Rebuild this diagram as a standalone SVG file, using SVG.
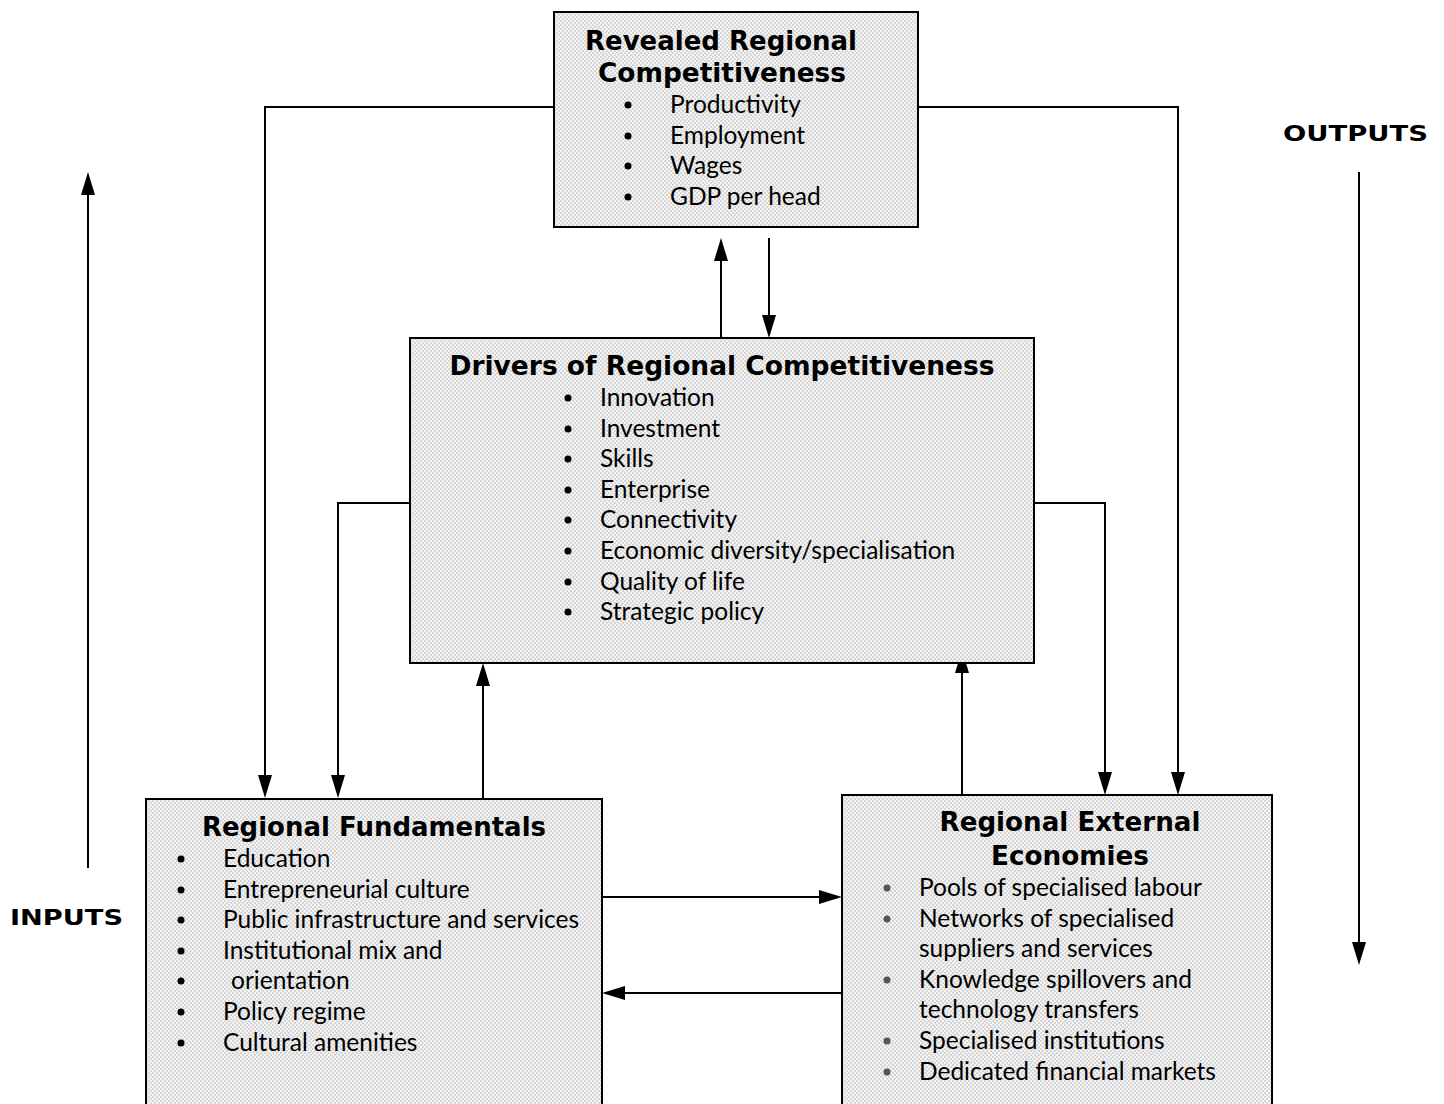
<svg xmlns="http://www.w3.org/2000/svg" width="1444" height="1104" viewBox="0 0 1444 1104">
<defs>
<pattern id="dots" width="4" height="4" patternUnits="userSpaceOnUse">
<rect width="4" height="4" fill="#f4f4f4"/>
<rect x="0" y="0" width="2" height="2" fill="#d6d6d6"/>
<rect x="2" y="2" width="2" height="2" fill="#d6d6d6"/>
</pattern>
</defs>
<style>
.box{fill:url(#dots);stroke:#000;stroke-width:2}
.t{font-family:"DejaVu Sans","Liberation Sans",sans-serif;font-weight:bold;font-size:26px;fill:#000;text-anchor:middle}
.b{font-family:Lato,"Liberation Sans",sans-serif;font-size:24.5px;fill:#000}
.lab{font-family:"DejaVu Sans","Liberation Sans",sans-serif;font-weight:bold;font-size:21px;fill:#000}
.c{fill:none;stroke:#000;stroke-width:2}
.g{fill:#555}
</style>
<g id="connectors">
<path class="c" d="M554,107 H265 V775"/>
<path d="M258,775 L272,775 L265,798 z"/>
<path class="c" d="M918,107 H1178 V772"/>
<path d="M1171,772 L1185,772 L1178,795 z"/>
<path class="c" d="M721,338 V261"/>
<path d="M714,261 L728,261 L721,238 z"/>
<path class="c" d="M769,238 V315"/>
<path d="M762,315 L776,315 L769,338 z"/>
<path class="c" d="M410,503 H338 V775"/>
<path d="M331,775 L345,775 L338,798 z"/>
<path class="c" d="M1034,503 H1105 V772"/>
<path d="M1098,772 L1112,772 L1105,795 z"/>
<path class="c" d="M483,798 V686"/>
<path d="M476,686 L490,686 L483,663 z"/>
<path class="c" d="M962,795 V673"/>
<path d="M955,673 L969,673 L962,650 z"/>
<path class="c" d="M602,897 H819"/>
<path d="M819,890 L819,904 L842,897 z"/>
<path class="c" d="M842,993 H625"/>
<path d="M625,986 L625,1000 L602,993 z"/>
<path class="c" d="M88,868 V195"/>
<path d="M81,195 L95,195 L88,172 z"/>
<path class="c" d="M1359,172 V942"/>
<path d="M1352,942 L1366,942 L1359,965 z"/>
</g>
<g id="revealed">
<rect class="box" x="554" y="12" width="364" height="215"/>
<text class="t" x="721" y="50" textLength="272" lengthAdjust="spacingAndGlyphs">Revealed Regional</text>
<text class="t" x="722" y="82" textLength="248" lengthAdjust="spacingAndGlyphs">Competitiveness</text>
<g class="b">
<circle cx="628" cy="105" r="3.5"/><text x="670" y="113">Productivity</text>
<circle cx="628" cy="136" r="3.5"/><text x="670" y="144">Employment</text>
<circle cx="628" cy="166" r="3.5"/><text x="670" y="174">Wages</text>
<circle cx="628" cy="197" r="3.5"/><text x="670" y="205">GDP per head</text>
</g>
</g>
<g id="drivers">
<rect class="box" x="410" y="338" width="624" height="325"/>
<text class="t" x="722" y="375" textLength="545" lengthAdjust="spacingAndGlyphs">Drivers of Regional Competitiveness</text>
<g class="b">
<circle cx="568" cy="398" r="3.5"/><text x="600" y="406">Innovation</text>
<circle cx="568" cy="429" r="3.5"/><text x="600" y="437">Investment</text>
<circle cx="568" cy="459" r="3.5"/><text x="600" y="467">Skills</text>
<circle cx="568" cy="490" r="3.5"/><text x="600" y="498">Enterprise</text>
<circle cx="568" cy="520" r="3.5"/><text x="600" y="528">Connectivity</text>
<circle cx="568" cy="551" r="3.5"/><text x="600" y="559">Economic diversity/specialisation</text>
<circle cx="568" cy="582" r="3.5"/><text x="600" y="590">Quality of life</text>
<circle cx="568" cy="612" r="3.5"/><text x="600" y="620">Strategic policy</text>
</g>
</g>
<g id="fundamentals">
<rect class="box" x="146" y="799" width="456" height="310"/>
<text class="t" x="374" y="836" textLength="344" lengthAdjust="spacingAndGlyphs">Regional Fundamentals</text>
<g class="b">
<circle cx="181" cy="859" r="3.5"/><text x="223" y="867">Education</text>
<circle cx="181" cy="890" r="3.5"/><text x="223" y="898">Entrepreneurial culture</text>
<circle cx="181" cy="920" r="3.5"/><text x="223" y="928">Public infrastructure and services</text>
<circle cx="181" cy="951" r="3.5"/><text x="223" y="959">Institutional mix and</text>
<circle cx="181" cy="981" r="3.5"/><text x="231" y="989">orientation</text>
<circle cx="181" cy="1012" r="3.5"/><text x="223" y="1020">Policy regime</text>
<circle cx="181" cy="1043" r="3.5"/><text x="223" y="1051">Cultural amenities</text>
</g>
</g>
<g id="external">
<rect class="box" x="842" y="795" width="430" height="314"/>
<text class="t" x="1070" y="831" textLength="261" lengthAdjust="spacingAndGlyphs">Regional External</text>
<text class="t" x="1070" y="865" textLength="158" lengthAdjust="spacingAndGlyphs">Economies</text>
<g class="b">
<circle class="g" cx="887" cy="888" r="3.5"/><text x="919" y="896">Pools of specialised labour</text>
<circle class="g" cx="887" cy="919" r="3.5"/><text x="919" y="927">Networks of specialised</text>
<text x="919" y="957">suppliers and services</text>
<circle class="g" cx="887" cy="980" r="3.5"/><text x="919" y="988">Knowledge spillovers and</text>
<text x="919" y="1018">technology transfers</text>
<circle class="g" cx="887" cy="1041" r="3.5"/><text x="919" y="1049">Specialised institutions</text>
<circle class="g" cx="887" cy="1072" r="3.5"/><text x="919" y="1080">Dedicated financial markets</text>
</g>
</g>
<g id="outputs-label"><text class="lab" x="1283" y="141" textLength="145" lengthAdjust="spacingAndGlyphs">OUTPUTS</text></g>
<g id="inputs-label"><text class="lab" x="10" y="925" textLength="113" lengthAdjust="spacingAndGlyphs">INPUTS</text></g>
</svg>
